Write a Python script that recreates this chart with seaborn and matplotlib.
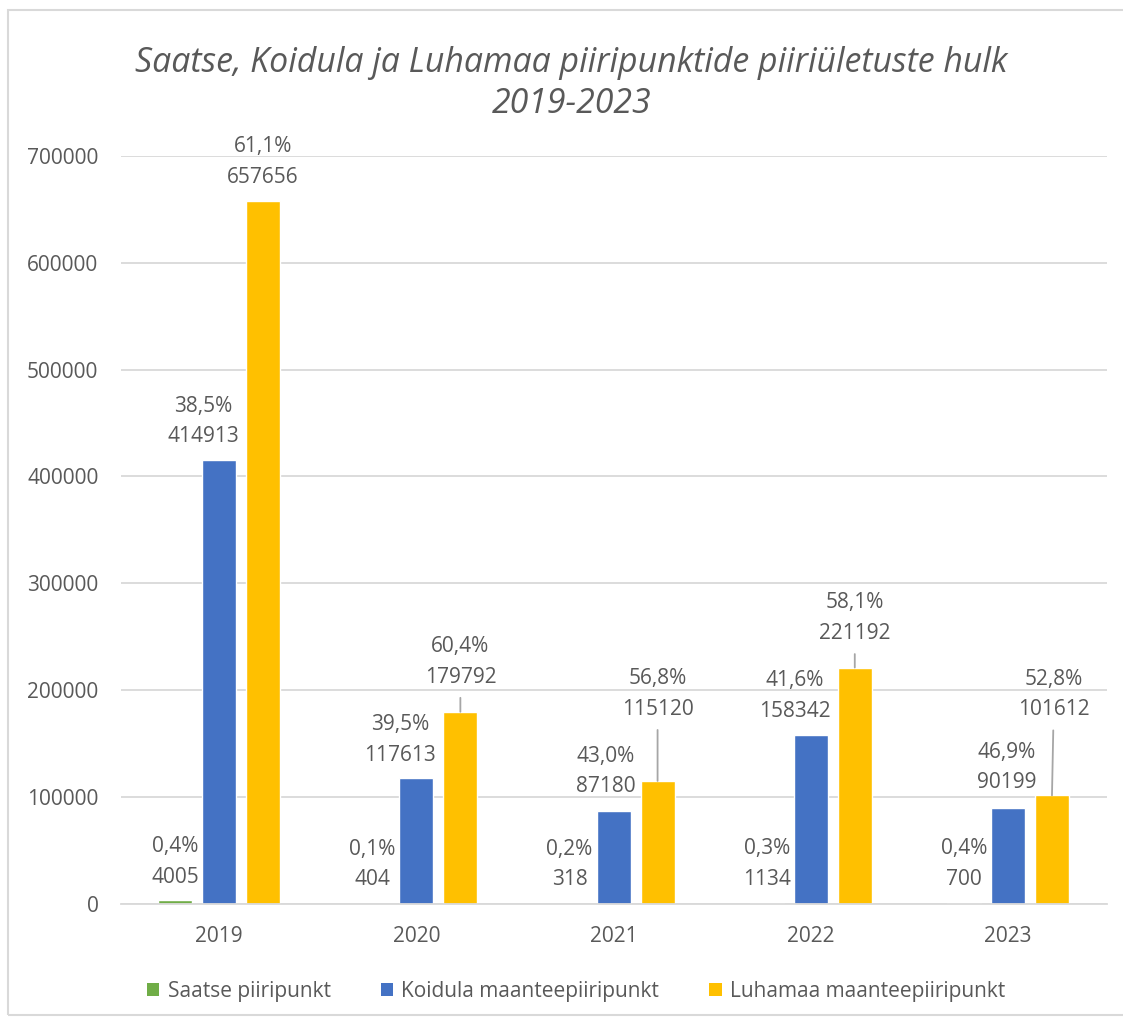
import matplotlib
matplotlib.use("Agg")
import matplotlib.pyplot as plt
from matplotlib.patches import Rectangle, Patch
import pandas as pd
import seaborn as sns

# Data
years = ["2019", "2020", "2021", "2022", "2023"]
series_names = ["Saatse piiripunkt", "Koidula maanteepiiripunkt", "Luhamaa maanteepiiripunkt"]
saatse = [4005, 404, 318, 1134, 700]
koidula = [414913, 117613, 87180, 158342, 90199]
luhamaa = [657656, 179792, 115120, 221192, 101612]
saatse_pct = ["0,4%", "0,1%", "0,2%", "0,3%", "0,4%"]
koidula_pct = ["38,5%", "39,5%", "43,0%", "41,6%", "46,9%"]
luhamaa_pct = ["61,1%", "60,4%", "56,8%", "58,1%", "52,8%"]
y_ticks = [0, 100000, 200000, 300000, 400000, 500000, 600000, 700000]

colors = ["#70AD47", "#4472C4", "#FFC000"]
text_color = "#595959"
grid_color = "#D9D9D9"

# label placement (pixels from bar top centre), and whether a leader line is drawn
label_offsets = [
    [(0, 38), (0, 39), (0, 39), (0, 39), (0, 39)],
    [(-16, 39), (-16, 38.5), (-8, 39.5), (-16, 38.5), (-1, 40)],
    [(0, 39), (0, 50), (0, 87), (0, 49.5), (2, 101)],
]
leader = [
    [False] * 5,
    [False] * 5,
    [False, True, True, True, True],
]

df = pd.DataFrame({
    "year": years * 3,
    "series": [series_names[0]] * 5 + [series_names[1]] * 5 + [series_names[2]] * 5,
    "value": saatse + koidula + luhamaa,
})

sns.set_style("white")
plt.rcParams["font.family"] = ["Open Sans", "DejaVu Sans"]

fig = plt.figure(figsize=(11.23, 10.21), dpi=100)
ax = fig.add_axes([120.6 / 1123, 1 - 904 / 1021, 986 / 1123, (904 - 155.7) / 1021])

sns.barplot(data=df, x="year", y="value", hue="series", hue_order=series_names,
            palette=colors, width=0.669, gap=0.227, ax=ax, legend=False,
            saturation=1, errorbar=None)

ax.set_ylim(0, 700000)
ax.set_xlim(-0.5, 4.5)
ax.set_yticks(y_ticks)
ax.set_yticklabels([str(t) for t in y_ticks])
ax.yaxis.grid(True, color=grid_color, linewidth=1.3)
ax.set_axisbelow(True)
for s in ["top", "right", "left"]:
    ax.spines[s].set_visible(False)
ax.spines["bottom"].set_color(grid_color)
ax.spines["bottom"].set_linewidth(1.3)
ax.tick_params(axis="both", length=0, colors=text_color, labelsize=15)
ax.tick_params(axis="y", pad=16)
ax.tick_params(axis="x", pad=16)
ax.set_xlabel("")
ax.set_ylabel("")

pct_lists = [saatse_pct, koidula_pct, luhamaa_pct]
for i, cont in enumerate(ax.containers):
    for j, bar in enumerate(cont):
        cx = bar.get_x() + bar.get_width() / 2
        top = bar.get_height()
        dx, dy = label_offsets[i][j]
        txt = f"{pct_lists[i][j]}\n{int(top)}"
        arrow = dict(arrowstyle="-", color="#A6A6A6", lw=1.3, shrinkA=5, shrinkB=0) if leader[i][j] else None
        ax.annotate(txt, xy=(cx, top), xytext=(dx, dy), textcoords="offset pixels",
                    ha="center", va="center", fontsize=15, color=text_color,
                    linespacing=1.6, annotation_clip=False, arrowprops=arrow)

fig.text(0.509, 0.938, "Saatse, Koidula ja Luhamaa piiripunktide piiriületuste hulk",
         ha="center", va="center", fontsize=24.4, style="italic", color=text_color)
fig.text(0.509, 0.898, "2019-2023", ha="center", va="center", fontsize=24.4,
         style="italic", color=text_color)

handles = [Patch(facecolor=c, edgecolor="none") for c in colors]
fig.legend(handles, series_names, loc="center", bbox_to_anchor=(0.513, 0.029), ncol=3,
           frameon=False, fontsize=15, labelcolor=text_color, handlelength=0.6,
           handleheight=0.6, handletextpad=0.4, columnspacing=2.4)

fig.patches.append(Rectangle((8 / 1123, 6 / 1021), 1.2, 1005 / 1021,
                             transform=fig.transFigure, fill=False,
                             edgecolor=grid_color, linewidth=1.5))

fig.savefig("out.png", dpi=100)
